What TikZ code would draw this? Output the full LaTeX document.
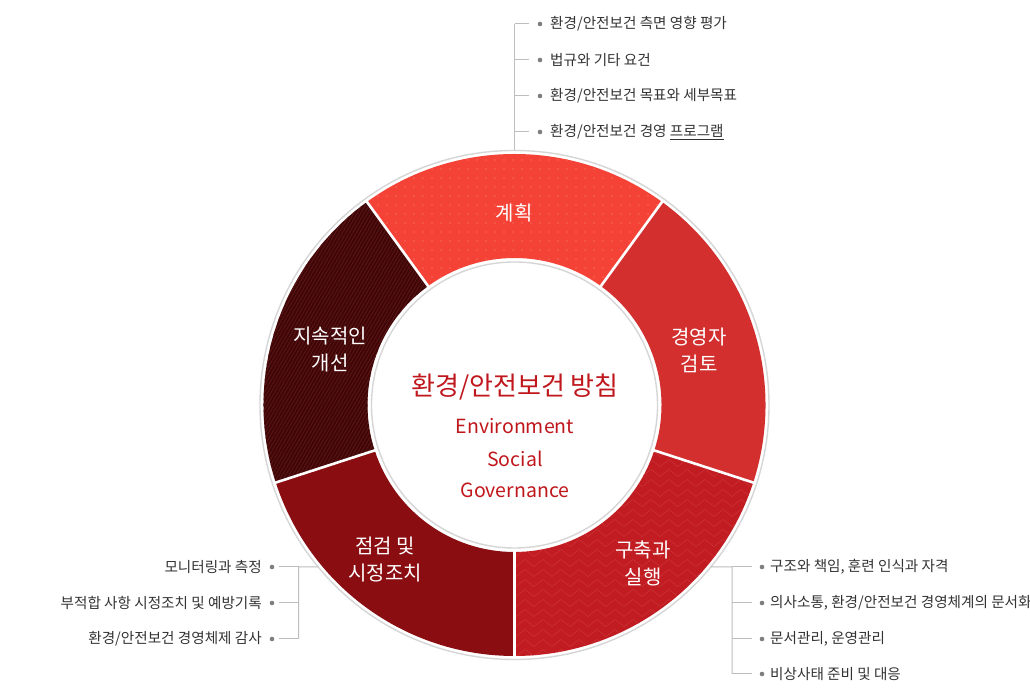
\documentclass[tikz,border=0pt]{standalone}
\usepackage{fontspec}
\setmainfont{Noto Sans CJK KR}
\usetikzlibrary{patterns.meta,decorations.pathmorphing}
\definecolor{cPlan}{HTML}{F44336}
\definecolor{cPlanDot}{HTML}{F6645A}
\definecolor{cRev}{HTML}{D32F2F}
\definecolor{cDo}{HTML}{C11C22}
\definecolor{cZig}{HTML}{CC3539}
\definecolor{cChk}{HTML}{8A0D12}
\definecolor{cAct}{HTML}{3E0607}
\definecolor{cActLine}{HTML}{5E1616}
\definecolor{cTitle}{HTML}{C0171D}
\definecolor{cRing}{HTML}{D6D6D6}
\definecolor{cConn}{HTML}{BDBDBD}
\definecolor{cDot}{HTML}{7E7E7E}
\definecolor{cTxt}{HTML}{333333}
\def\segp#1#2{(#1:251) arc[start angle=#1,end angle=#2,radius=251pt] -- (#2:147) arc[start angle=#2,end angle=#1,radius=147pt] -- cycle}
\begin{document}
\begin{tikzpicture}[x=1pt,y=1pt,
  seglbl/.style={text=white,font=\fontsize{20}{27}\selectfont,align=center,inner sep=0pt},
  titlelbl/.style={text=cTitle,font=\fontsize{26}{30}\selectfont,inner sep=0pt},
  englbl/.style={text=cTitle,font=\fontsize{19.5}{24}\selectfont,inner sep=0pt,anchor=base},
  item/.style={text=cTxt,font=\fontsize{14.6}{17}\selectfont,inner sep=0pt},
  bul/.style={circle,fill=cDot,inner sep=0pt,minimum size=4.6pt},
  conn/.style={draw=cConn,line width=1pt},
  sep/.style={draw=white,line width=2.6pt},
  ring/.style={draw=cRing,line width=1.4pt}]
\useasboundingbox (0,0) rectangle (1030,700);
\fill[white] (0,0) rectangle (1030,700);
\begin{scope}[shift={(514.5,295)}]
  % segments
  \fill[cPlan] \segp{54}{126};
  \path[pattern={Dots[distance=9pt,radius=0.8pt]},pattern color=cPlanDot] \segp{54}{126};
  \fill[cRev] \segp{-18}{54};
  \fill[cDo] \segp{-90}{-18};
  \begin{scope}
    \clip \segp{-90}{-18};
    \foreach \yy in {-258,-248,...,-38}
      \draw[draw=cZig,line width=0.45pt,decorate,decoration={zigzag,segment length=18pt,amplitude=3.5pt}] (-12,\yy) -- (270,\yy);
  \end{scope}
  \fill[cChk] \segp{198}{270};
  \fill[cAct] \segp{126}{198};
  \path[pattern={Lines[angle=60,distance=3pt,line width=0.8pt]},pattern color=cActLine] \segp{126}{198};
  % separators
  \foreach \a in {54,-18,-90,198,126}
    \draw[sep] (\a:145) -- (\a:253);
  % rings
  \draw[ring] (0,0) circle[radius=254.5pt];
  \draw[ring] (0,0) circle[radius=143pt];
  % ring anchor points for connectors
  \coordinate (topring) at (90:254.5);
  \coordinate (rring) at (-39.5:254.5);
  \coordinate (lring) at (219.5:254.5);
\end{scope}
% segment labels
\node[seglbl] (plan) at (514,487) {계획};
\node[seglbl] (review) at (699,350) {경영자\\검토};
\node[seglbl] (do) at (643,136.5) {구축과\\실행};
\node[seglbl] (check) at (385,140) {점검 및\\시정조치};
\node[seglbl] (act) at (330,350) {지속적인\\개선};
% center
\node[titlelbl] (policy) at (515,313.3) {환경/안전보건 방침};
\node[englbl] (env) at (515,266) {Environment};
\node[englbl] (soc) at (515,233.3) {Social};
\node[englbl] (gov) at (515,202) {Governance};
% top list
\coordinate (tt0) at (514.5,676);
\coordinate (tt1) at (514.5,640);
\coordinate (tt2) at (514.5,604);
\coordinate (tt3) at (514.5,568);
\node[bul] (tb0) at (540,676) {};
\node[bul] (tb1) at (540,640) {};
\node[bul] (tb2) at (540,604) {};
\node[bul] (tb3) at (540,568) {};
\node[item,anchor=west] (tx0) at (550,676) {환경/안전보건 측면 영향 평가};
\node[item,anchor=west] (tx1) at (550,640) {법규와 기타 요건};
\node[item,anchor=west] (tx2) at (550,604) {환경/안전보건 목표와 세부목표};
\node[item,anchor=west] (tx3) at (550,568) {환경/안전보건 경영 \underline{프로그램}};
\draw[conn] (tt0) -- (topring);
\foreach \i in {0,1,2,3}
  \draw[conn,shorten >=9pt] (tt\i) -- (tb\i);
% right list
\coordinate (rt0) at (732,133);
\coordinate (rt1) at (732,97);
\coordinate (rt2) at (732,61);
\coordinate (rt3) at (732,26);
\node[bul] (rb0) at (762,133) {};
\node[bul] (rb1) at (762,97) {};
\node[bul] (rb2) at (762,61) {};
\node[bul] (rb3) at (762,26) {};
\node[item,anchor=west] (rx0) at (770,133) {구조와 책임, 훈련 인식과 자격};
\node[item,anchor=west] (rx1) at (770,97) {의사소통, 환경/안전보건 경영체계의 문서화};
\node[item,anchor=west] (rx2) at (770,61) {문서관리, 운영관리};
\node[item,anchor=west] (rx3) at (770,26) {비상사태 준비 및 대응};
\draw[conn] (rring) -- (rt0) -- (rt3);
\foreach \i in {0,1,2,3}
  \draw[conn,shorten >=8pt] (rt\i) -- (rb\i);
% left list
\coordinate (lt0) at (298.5,133);
\coordinate (lt1) at (298.5,97);
\coordinate (lt2) at (298.5,61);
\node[bul] (lb0) at (272,133) {};
\node[bul] (lb1) at (272,97) {};
\node[bul] (lb2) at (272,61) {};
\node[item,anchor=east] (lx0) at (262,133) {모니터링과 측정};
\node[item,anchor=east] (lx1) at (262,97) {부적합 사항 시정조치 및 예방기록};
\node[item,anchor=east] (lx2) at (262,61) {환경/안전보건 경영체제 감사};
\draw[conn] (lring) -- (lt0) -- (lt2);
\foreach \i in {0,1,2}
  \draw[conn,shorten >=4pt] (lt\i) -- (lb\i);
\end{tikzpicture}
\end{document}
